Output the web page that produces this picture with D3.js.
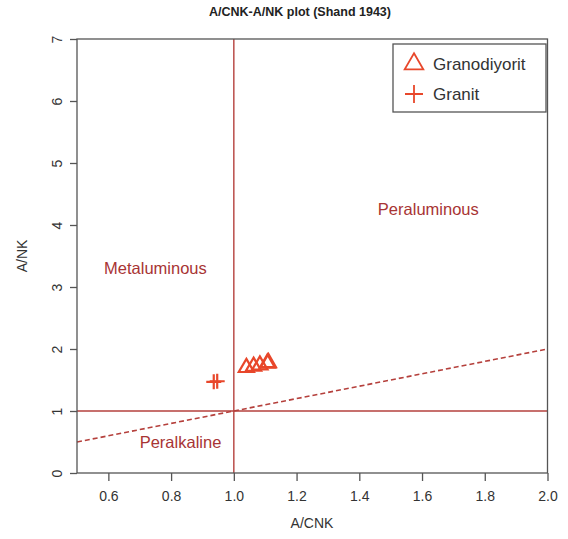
<!DOCTYPE html>
<html>
<head>
<meta charset="utf-8">
<script src="https://cdn.jsdelivr.net/npm/d3@7"></script>
<style>
  body { margin: 0; background: #fff; }
  text { font-family: "Liberation Sans", Arial, sans-serif; }
</style>
</head>
<body>
<svg width="568" height="539"></svg>
<script>
// data
const granodiyoritX = [1.04, 1.063, 1.083, 1.107, 1.11];
const granodiyoritY = [1.70, 1.72, 1.74, 1.77, 1.78];
const granitX = [0.936, 0.947];
const granitY = [1.47, 1.48];
const xTicks = [0.6, 0.8, 1.0, 1.2, 1.4, 1.6, 1.8, 2.0];
const yTicks = [0, 1, 2, 3, 4, 5, 6, 7];
const fieldNames = ["Metaluminous", "Peraluminous", "Peralkaline"];
const fieldX = [0.75, 1.62, 0.83];
const fieldY = [3.3, 4.25, 0.5];
const legendNames = ["Granodiyorit", "Granit"];

const svg = d3.select("svg");
const markColor = "#e8472b";
const lineColor = "#b5403c";
const textColor = "#a83434";
const axisColor = "#555";

const x = d3.scaleLinear().domain([0.5, 2.0]).range([77, 547.5]);
const y = d3.scaleLinear().domain([0, 7]).range([473, 39]);

// title
svg.append("text")
  .attr("x", 300).attr("y", 16)
  .attr("text-anchor", "middle")
  .attr("font-size", 12.5).attr("font-weight", "bold")
  .attr("fill", "#222")
  .text("A/CNK-A/NK plot (Shand 1943)");

// reference lines
const g = svg.append("g");
g.append("line")
  .attr("x1", x(1)).attr("x2", x(1)).attr("y1", y(0)).attr("y2", y(7))
  .attr("stroke", lineColor).attr("stroke-width", 1.4);
g.append("line")
  .attr("x1", x(0.5)).attr("x2", x(2)).attr("y1", y(1)).attr("y2", y(1))
  .attr("stroke", lineColor).attr("stroke-width", 1.4);
g.append("line")
  .attr("x1", x(0.5)).attr("x2", x(2)).attr("y1", y(0.5)).attr("y2", y(2))
  .attr("stroke", lineColor).attr("stroke-width", 1.6)
  .attr("stroke-dasharray", "5,3");

// box
svg.append("rect")
  .attr("x", x(0.5)).attr("y", y(7))
  .attr("width", x(2) - x(0.5)).attr("height", y(0) - y(7))
  .attr("fill", "none").attr("stroke", axisColor).attr("stroke-width", 1.3);

// axes
const xAxis = svg.append("g")
  .attr("transform", "translate(0," + y(0) + ")")
  .call(d3.axisBottom(x).tickValues(xTicks).tickSize(8).tickPadding(10)
    .tickFormat(d3.format(".1f")));
const yAxis = svg.append("g")
  .attr("transform", "translate(" + x(0.5) + ",0)")
  .call(d3.axisLeft(y).tickValues(yTicks).tickSize(7).tickPadding(0)
    .tickFormat(d3.format("d")));
[xAxis, yAxis].forEach(a => {
  a.select(".domain").remove();
  a.selectAll("line").attr("stroke", axisColor).attr("stroke-width", 1.3);
  a.selectAll("text").attr("font-size", 14).attr("fill", "#333")
    .style("font-family", '"Liberation Sans", Arial, sans-serif');
});
yAxis.selectAll("text")
  .attr("text-anchor", "middle")
  .attr("transform", "translate(-20,0) rotate(-90)")
  .attr("x", 0).attr("dy", "0.35em");

// axis titles
svg.append("text")
  .attr("x", 312).attr("y", 528)
  .attr("text-anchor", "middle").attr("font-size", 14).attr("fill", "#333")
  .text("A/CNK");
svg.append("text")
  .attr("transform", "translate(27,256) rotate(-90)")
  .attr("text-anchor", "middle").attr("font-size", 14).attr("fill", "#333")
  .text("A/NK");

// field labels
svg.append("g").selectAll("text")
  .data(fieldNames)
  .enter().append("text")
    .attr("x", (d, i) => x(fieldX[i]))
    .attr("y", (d, i) => y(fieldY[i]))
    .attr("dy", "0.35em")
    .attr("text-anchor", "middle")
    .attr("font-size", 16.5)
    .attr("fill", textColor)
    .text(d => d);

// symbols
const tri = d3.symbol().type(d3.symbolTriangle).size(100);
function plus(s) {
  return "M" + (-s) + ",0H" + s + "M0," + (-s) + "V" + s;
}

svg.append("g").selectAll("path")
  .data(granodiyoritX)
  .enter().append("path")
    .attr("transform", (d, i) => "translate(" + x(d) + "," + y(granodiyoritY[i]) + ")")
    .attr("d", tri)
    .attr("fill", "none")
    .attr("stroke", markColor)
    .attr("stroke-width", 2.2);

svg.append("g").selectAll("path")
  .data(granitX)
  .enter().append("path")
    .attr("transform", (d, i) => "translate(" + x(d) + "," + y(granitY[i]) + ")")
    .attr("d", plus(7.5))
    .attr("fill", "none")
    .attr("stroke", markColor)
    .attr("stroke-width", 2.2);

// legend
const legend = svg.append("g");
legend.append("rect")
  .attr("x", 393).attr("y", 44).attr("width", 153).attr("height", 68)
  .attr("fill", "#fff").attr("stroke", axisColor).attr("stroke-width", 1.3);
legend.append("path")
  .attr("transform", "translate(414,64)")
  .attr("d", d3.symbol().type(d3.symbolTriangle).size(150))
  .attr("fill", "none").attr("stroke", markColor).attr("stroke-width", 1.8);
legend.append("path")
  .attr("transform", "translate(414,94)")
  .attr("d", plus(9))
  .attr("fill", "none").attr("stroke", markColor).attr("stroke-width", 1.8);
legend.selectAll("text.lg")
  .data(legendNames)
  .enter().append("text")
    .attr("class", "lg")
    .attr("x", 433)
    .attr("y", (d, i) => 64 + i * 30)
    .attr("dy", "0.35em")
    .attr("font-size", 17)
    .attr("fill", "#333")
    .text(d => d);
</script>
</body>
</html>
